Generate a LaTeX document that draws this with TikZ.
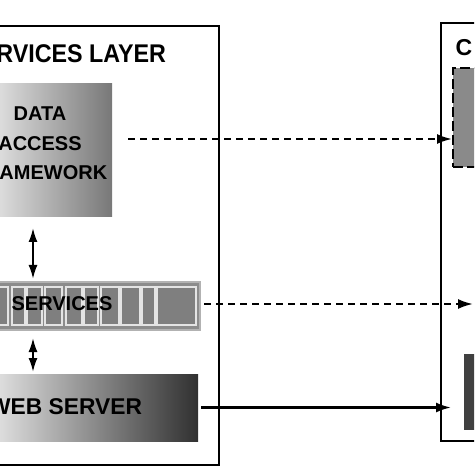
\documentclass[tikz,border=0pt]{standalone}
\usepackage{fontspec}
\setmainfont{Liberation Sans}
\newfontfamily\titlefont[FakeStretch=0.91]{Liberation Sans}
\usetikzlibrary{arrows.meta}
\definecolor{bargray}{HTML}{8C8C8C}
\definecolor{celledge}{HTML}{E4E4E4}
\definecolor{cellgray}{HTML}{7F7F7F}
\definecolor{boxgray}{HTML}{8A8A8A}
\definecolor{darkgray}{HTML}{404040}
\begin{document}
\begin{tikzpicture}[x=0.5pt,y=-0.5pt,
                    line width=1pt,
                    >={Latex[length=7.5pt,width=5pt]}]
    \tikzstyle{frame}=[draw=black,line width=1.25pt,inner sep=0pt]
    \tikzstyle{block}=[inner sep=0pt]
    \tikzstyle{layer}=[font=\titlefont\bfseries\fontsize{12.8}{15}\selectfont,inner sep=0pt]
    \tikzstyle{boxtext}=[font=\bfseries\fontsize{10}{14.8}\selectfont,inner sep=0pt]
    \tikzstyle{cell}=[fill=cellgray,draw=celledge,line width=0.8pt]
    \tikzstyle{flow}=[->,line width=1.1pt]
    \tikzstyle{call}=[dash pattern=on 3.5pt off 2.5pt]
    \tikzstyle{dbl}=[{Latex[length=7pt,width=4.5pt]}-{Latex[length=7pt,width=4.5pt]},line width=1pt]

    \useasboundingbox (0,0) rectangle (474,474);
    \clip (0,0) rectangle (474,474);

    % left side
    \node[frame,minimum width=259.5pt,minimum height=219.5pt] (srvlayer) at (-40.5,245.5) {};
    \node[layer,anchor=base east] (srvtitle) at (167,63) {SERVICES LAYER};
    \node[block,minimum width=76pt,minimum height=66.5pt,left color=white,right color=black!53] (daf) at (36,150.5) {};
    \node[boxtext,align=center] (daftxt) at (40,143.5) {DATA\\ACCESS\\FRAMEWORK};
    \node[block,minimum width=120pt,minimum height=24pt,fill=bargray,draw=black!30] (svc) at (80,306) {};
    \foreach \l/\r in {-10/8,12/25,27/42,45/62,66/82,84/98,101/119,121/140,142/155,157/196}
        \draw[cell] (\l,287) rectangle (\r,325);
    \node[boxtext,font=\bfseries\fontsize{10}{12}\selectfont] (svctxt) at (62,304) {SERVICES};
    \node[block,minimum width=119pt,minimum height=33.5pt,left color=white,right color=black!81] (web) at (79,407.5) {};
    \node[boxtext,font=\bfseries\fontsize{11.4}{13}\selectfont,anchor=east] (webtxt) at (143,407) {WEB SERVER};

    % right side
    \node[frame,minimum width=179.5pt,minimum height=209pt] (clilayer) at (620.5,232) {};
    \node[boxtext,font=\bfseries\fontsize{11.5}{13}\selectfont] (clititle) at (464,48) {C};
    \node[block,minimum width=98.5pt,minimum height=49.5pt,fill=boxgray,draw=black,dash pattern=on 5pt off 2pt] (cfw) at (551.5,117.5) {};
    \node[block,minimum width=93pt,minimum height=38pt,fill=darkgray] (csrv) at (557,392) {};

    % connectors
    \coordinate (dafout) at (128,139);
    \coordinate (svcin) at (473,304);
    \coordinate (ax) at (33,0);
    \draw[flow,call] (dafout) -- (dafout -| cfw.west);
    \draw[flow,call,shorten <=1.5pt] (svc.east |- svcin) -- (svcin);
    \draw[flow,shorten <=1pt,shorten >=6pt] (web.east) -- (web.east -| csrv.west);
    \draw[dbl,shorten <=5pt,shorten >=1pt] (daf.south -| ax) -- (svc.north -| ax);
    \draw[dbl,shorten <=3.5pt,shorten >=0.5pt] (svc.south -| ax) -- (web.north -| ax);
\end{tikzpicture}
\end{document}
